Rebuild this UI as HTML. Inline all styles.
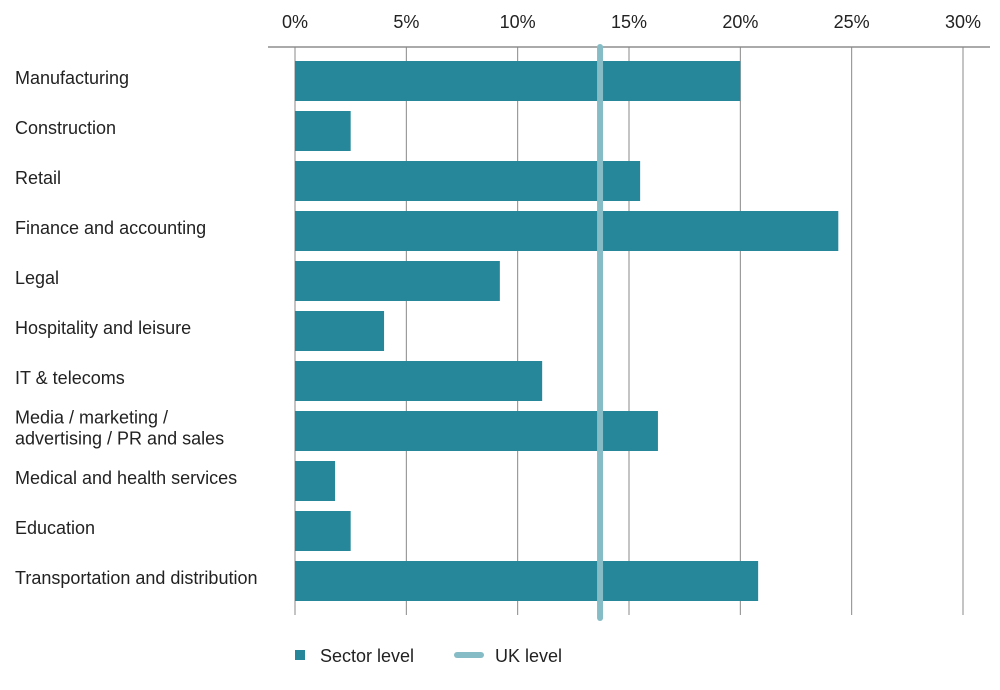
<!DOCTYPE html>
<html><head><meta charset="utf-8"><style>
body{margin:0;background:#fff;font-family:"Liberation Sans",sans-serif;}
svg text{font-family:"Liberation Sans",sans-serif;fill:#222;}
</style></head><body>
<svg width="1000" height="685" id="c"></svg>
<script>
const categories=["Manufacturing","Construction","Retail","Finance and accounting","Legal","Hospitality and leisure","IT & telecoms","Media / marketing /|advertising / PR and sales","Medical and health services","Education","Transportation and distribution"];
const sectorValues=[20,2.5,15.5,24.4,9.2,4.0,11.1,16.3,1.8,2.5,20.8];
const ukLevel=13.7;
const ticks=[0,5,10,15,20,25,30];
const tickLabels=["0%","5%","10%","15%","20%","25%","30%"];
const NS="http://www.w3.org/2000/svg";
const svg=document.getElementById('c');
const x=v=>295+v*(963-295)/30;
const yTop=i=>61+i*50;
function mk(t,a,p){const e=document.createElementNS(NS,t);for(const k in a)e.setAttribute(k,a[k]);(p||svg).appendChild(e);return e;}
let l=mk('line',{x1:268,x2:990,y1:47,y2:47,stroke:'#555','stroke-width':1});


ticks.forEach((t,i)=>{
 const g=mk('line',{x1:x(t),x2:x(t),y1:47,y2:615,stroke:'#888','stroke-width':1});
 
 
 const tx=mk('text',{x:x(t),y:28,'text-anchor':'middle','font-size':18});
 tx.textContent=tickLabels[i];
 
 
});
categories.forEach((c,i)=>{
 const b=mk('rect',{x:x(0),y:yTop(i),width:x(sectorValues[i])-x(0),height:40,fill:'#26879a'});
 
 
 const parts=c.split('|');
 parts.forEach((p,j)=>{
  const tx=mk('text',{x:15,y:yTop(i)+23+(parts.length>1?(j-0.5)*21:0),'font-size':18});
  tx.textContent=p;
  
  
 });
});
const u=mk('line',{x1:x(ukLevel),x2:x(ukLevel),y1:47,y2:618,stroke:'#86bcc5','stroke-width':6,'stroke-linecap':'round'});


const ls=mk('rect',{x:295,y:650,width:10,height:10,fill:'#26879a'});


const lt=mk('text',{x:320,y:662,'font-size':18});lt.textContent='Sector level';


const ul=mk('line',{x1:457,x2:481,y1:655,y2:655,stroke:'#86bcc5','stroke-width':6,'stroke-linecap':'round'});


const ut=mk('text',{x:495,y:662,'font-size':18});ut.textContent='UK level';


</script>
</body></html>
